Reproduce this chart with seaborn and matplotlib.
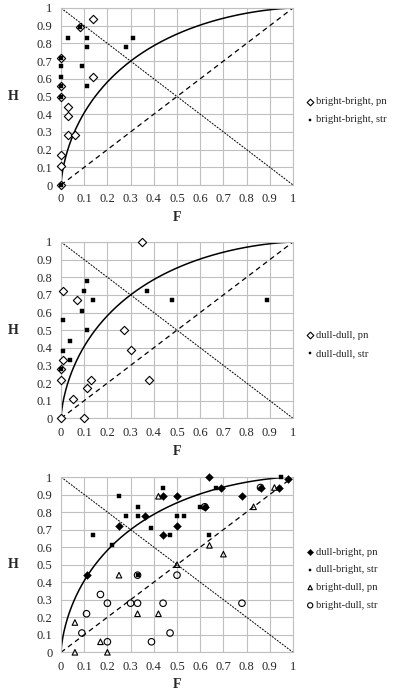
import numpy as np
import matplotlib
matplotlib.use('Agg')
import matplotlib.pyplot as plt
import seaborn as sns
from statistics import NormalDist

# values (F = false alarm rate, H = hit rate)
bb_pn_F = [0.14, 0.08, 0.14, 0, 0, 0, 0.03, 0.03, 0.03, 0.06, 0, 0, 0]
bb_pn_H = [0.94, 0.89, 0.61, 0.72, 0.56, 0.5, 0.44, 0.39, 0.28, 0.28, 0.17, 0.11, 0]
bb_str_F = [0.08, 0.03, 0.11, 0.11, 0.28, 0.31, 0, 0.09, 0, 0.11, 0, 0, 0, 0]
bb_str_H = [0.89, 0.83, 0.83, 0.78, 0.78, 0.83, 0.67, 0.67, 0.61, 0.56, 0.72, 0.56, 0.5, 0]

dd_pn_F = [0.35, 0.01, 0.07, 0.27, 0.3, 0.01, 0, 0, 0.13, 0.38, 0.11, 0.05, 0, 0.1]
dd_pn_H = [1.0, 0.72, 0.67, 0.5, 0.39, 0.33, 0.28, 0.22, 0.22, 0.22, 0.17, 0.11, 0, 0]
dd_str_F = [0.11, 0.1, 0.14, 0.09, 0.01, 0.11, 0.04, 0.01, 0.04, 0.37, 0.48, 0.89, 0]
dd_str_H = [0.78, 0.72, 0.67, 0.61, 0.56, 0.5, 0.44, 0.38, 0.33, 0.72, 0.67, 0.67, 0.28]

db_pn_F = [0.11, 0.25, 0.36, 0.44, 0.5, 0.44, 0.5, 0.64, 0.69, 0.78, 0.62, 0.86, 0.94, 0.98]
db_pn_H = [0.44, 0.72, 0.78, 0.89, 0.89, 0.67, 0.72, 1.0, 0.94, 0.89, 0.83, 0.94, 0.94, 0.99]
db_str_F = [0.25, 0.14, 0.22, 0.28, 0.33, 0.33, 0.39, 0.44, 0.47, 0.5, 0.53, 0.6, 0.67, 0.95, 0.64, 0.33]
db_str_H = [0.89, 0.67, 0.61, 0.78, 0.78, 0.83, 0.71, 0.94, 0.67, 0.78, 0.78, 0.83, 0.94, 1.0, 0.67, 0.44]

bd_pn_F = [0.25, 0.42, 0.5, 0.06, 0.06, 0.17, 0.2, 0.33, 0.42, 0.64, 0.7, 0.83, 0.92]
bd_pn_H = [0.44, 0.89, 0.5, 0.17, 0, 0.06, 0, 0.22, 0.22, 0.61, 0.56, 0.83, 0.94]
bd_str_F = [0.33, 0.5, 0.17, 0.2, 0.11, 0.3, 0.33, 0.44, 0.78, 0.09, 0.2, 0.39, 0.47, 0.62, 0.86]
bd_str_H = [0.44, 0.44, 0.33, 0.28, 0.22, 0.28, 0.28, 0.28, 0.28, 0.11, 0.06, 0.06, 0.11, 0.83, 0.94]

# isosensitivity curve through (0.3, 0.7)
nd = NormalDist()
dprime = 2 * nd.inv_cdf(0.7)

sns.set_style('white')
plt.rcParams['font.family'] = ['Liberation Serif', 'DejaVu Serif']

fig = plt.figure(figsize=(3.97, 6.94), dpi=100)
left, width = 61 / 397, 232 / 397
tops = [8, 242, 477]
bots = [185, 418.3, 652.3]

open_kw = dict(facecolor='white', edgecolor='black', linewidth=0.8)
fill_kw = dict(color='black', edgecolor='black', linewidth=0.3)
hollow_kw = dict(facecolor='none', edgecolor='black', linewidth=0.8)

panels = [
    [(bb_pn_F, bb_pn_H, 'D', 18, open_kw, 'bright-bright, pn'),
     (bb_str_F, bb_str_H, 's', 6, fill_kw, 'bright-bright, str')],
    [(dd_pn_F, dd_pn_H, 'D', 18, open_kw, 'dull-dull, pn'),
     (dd_str_F, dd_str_H, 's', 6, fill_kw, 'dull-dull, str')],
    [(db_pn_F, db_pn_H, 'D', 16, fill_kw, 'dull-bright, pn'),
     (db_str_F, db_str_H, 's', 6, fill_kw, 'dull-bright, str'),
     (bd_pn_F, bd_pn_H, '^', 16, hollow_kw, 'bright-dull, pn'),
     (bd_str_F, bd_str_H, 'o', 22, hollow_kw, 'bright-dull, str')],
]

ticks = np.round(np.arange(0, 1.01, 0.1), 1)
tick_labels = ['0'] + [f'{t:g}' for t in ticks[1:]]
fgrid = np.linspace(0.0001, 0.9999, 400)
curve = [nd.cdf(nd.inv_cdf(f) + dprime) for f in fgrid]

for i, series in enumerate(panels):
    ax = fig.add_axes([left, 1 - bots[i] / 694, width, (bots[i] - tops[i]) / 694])
    ax.set_xlim(0, 1)
    ax.set_ylim(0, 1)
    ax.set_xticks(ticks)
    ax.set_yticks(ticks)
    ax.set_xticklabels(tick_labels)
    ax.set_yticklabels(tick_labels)
    ax.grid(True, color='#c0c0c0', linewidth=0.8)
    ax.set_axisbelow(True)
    for sp in ax.spines.values():
        sp.set_color('#c0c0c0')
        sp.set_linewidth(0.8)
    ax.tick_params(length=0, pad=6, labelsize=9)

    ax.plot([0, 1], [0, 1], color='black', lw=0.9, dashes=(4, 3))
    ax.plot([0, 1], [1, 0], color='black', lw=0.7, dashes=(2, 1.2))
    ax.plot([0] + list(fgrid) + [1], [0] + curve + [1], color='black', lw=1.1)

    for F, H, m, s, kw, lab in series:
        sns.scatterplot(x=F, y=H, marker=m, s=s, ax=ax, label=lab, zorder=3,
                        clip_on=False, **kw)

    ax.set_xlabel('F', fontweight='bold', fontsize=10)
    ax.set_ylabel('H', fontweight='bold', fontsize=10, rotation=0)
    ax.xaxis.label.set_va('center')
    ax.yaxis.label.set_va('center')
    ax.xaxis.set_label_coords(0.5, -0.186)
    ax.yaxis.set_label_coords(-0.205, 0.5)

    ax.legend(loc='center left', bbox_to_anchor=(1.04, 0.42), frameon=False,
              fontsize=7.6, handletextpad=0.2, handlelength=0.7,
              labelspacing=0.8, markerscale=0.8, borderaxespad=0)

fig.savefig('out.png', dpi=100)
